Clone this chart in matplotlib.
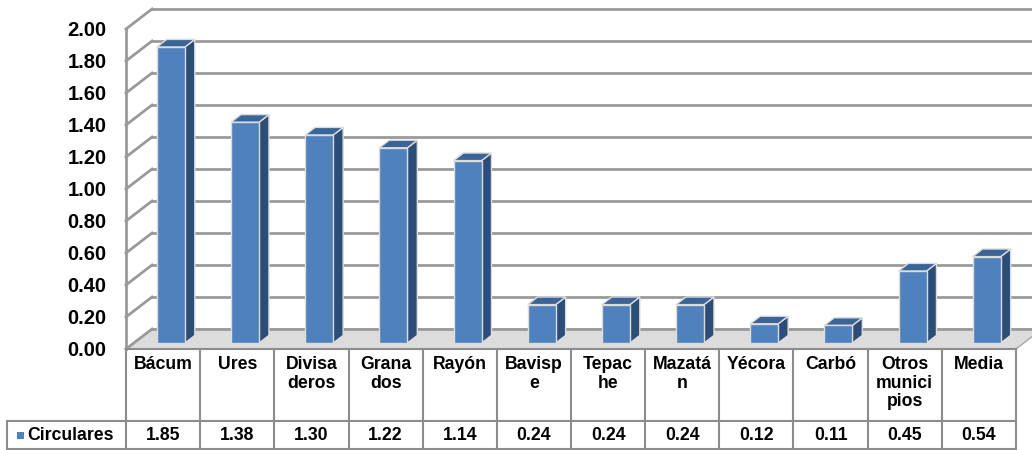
import numpy as np
import matplotlib
matplotlib.use("Agg")
import matplotlib.pyplot as plt
from matplotlib.patches import Polygon, Rectangle

plt.rcParams['font.family'] = ['Liberation Sans', 'DejaVu Sans']

# Data
categories = ["Bácum", "Ures", "Divisa\nderos", "Grana\ndos", "Rayón", "Bavisp\ne",
              "Tepac\nhe", "Mazatá\nn", "Yécora", "Carbó", "Otros\nmunici\npios", "Media"]
circulares = [1.85, 1.38, 1.30, 1.22, 1.14, 0.24, 0.24, 0.24, 0.12, 0.11, 0.45, 0.54]
series_name = "Circulares"
yticks = np.arange(0, 2.01, 0.2)

# 3D look
DX, DY = 0.351, 0.125      # depth offset (category units, value units)
F0, F1 = 0.30, 0.68        # bar depth range (fraction of depth)
BW = 0.378                 # bar front width
grid_c = '#9a9a9a'
front_c, side_c, top_c = '#4f81bd', '#2c4d78', '#3b6499'

fig = plt.figure(figsize=(10.32, 4.5), dpi=100)
ax = fig.add_axes([126 / 1032, 1 - 349 / 450, 890 / 1032, 320 / 450])
ax.set_xlim(0, 12)
ax.set_ylim(0, 2)
ax.patch.set_visible(False)
for s in ax.spines.values():
    s.set_visible(False)
ax.set_xticks([])
ax.set_yticks(yticks)
ax.set_yticklabels([f"{t:.2f}" for t in yticks], fontsize=14.5, fontweight='bold')
ax.tick_params(axis='y', length=0, pad=14)

# floor
floor = Polygon([(0, 0), (12, 0), (12 + DX, DY), (DX, DY)], closed=True,
                facecolor='#dcdcdc', edgecolor='#a8a8a8', lw=1, clip_on=False, zorder=1)
ax.add_patch(floor)

# back wall gridlines + left wall
for t in yticks:
    ax.plot([DX, 12 + DX + 1], [t + DY, t + DY], color=grid_c, lw=2, clip_on=False, zorder=2)
    ax.plot([0, DX], [t, t + DY], color=grid_c, lw=2, clip_on=False, zorder=2)
ax.plot([0, 0], [0, 2], color=grid_c, lw=2, clip_on=False, zorder=2)

# bars
for i, v in enumerate(circulares):
    xl = i + 0.5 - BW / 2 + F0 * DX
    xr = xl + BW
    dd = (F1 - F0) * DX
    y0, y1 = F0 * DY, F1 * DY
    side = Polygon([(xr, y0), (xr + dd, y1), (xr + dd, v + y1), (xr, v + y0)],
                   facecolor=side_c, edgecolor='#dcdcdc', lw=1, clip_on=False, zorder=5)
    top = Polygon([(xl, v + y0), (xr, v + y0), (xr + dd, v + y1), (xl + dd, v + y1)],
                  facecolor=top_c, edgecolor='#dcdcdc', lw=1, clip_on=False, zorder=5)
    front = Rectangle((xl, y0), BW, v, facecolor=front_c, edgecolor='#dcdcdc',
                      lw=1, clip_on=False, zorder=6)
    ax.add_patch(side)
    ax.add_patch(top)
    ax.add_patch(front)

# data table below
tc = '#8c8c8c'
row_mid = -0.45
row_bot = -0.625
left = -1.604
ax.plot([0, 12], [0, 0], color=tc, lw=1.5, clip_on=False, zorder=3)
ax.plot([left, 12], [row_mid, row_mid], color=tc, lw=1.5, clip_on=False, zorder=3)
ax.plot([left, 12], [row_bot, row_bot], color=tc, lw=1.5, clip_on=False, zorder=3)
ax.plot([left, left], [row_mid, row_bot], color=tc, lw=1.5, clip_on=False, zorder=3)
for k in range(13):
    ax.plot([k, k], [0, row_bot], color=tc, lw=1.5, clip_on=False, zorder=3)

for i, (c, v) in enumerate(zip(categories, circulares)):
    ax.text(i + 0.5, -0.045, c, ha='center', va='top', fontsize=12.7,
            fontweight='bold', linespacing=1.1, clip_on=False)
    ax.text(i + 0.5, (row_mid + row_bot) / 2, f"{v:.2f}", ha='center', va='center',
            fontsize=12.7, fontweight='bold', clip_on=False)

ax.add_patch(Rectangle((-1.47, -0.56), 0.094, 0.044, facecolor=front_c,
                       edgecolor='none', clip_on=False))
ax.text(-1.33, (row_mid + row_bot) / 2, series_name, ha='left', va='center',
        fontsize=12.7, fontweight='bold', clip_on=False)

fig.savefig("out.png", dpi=100)
